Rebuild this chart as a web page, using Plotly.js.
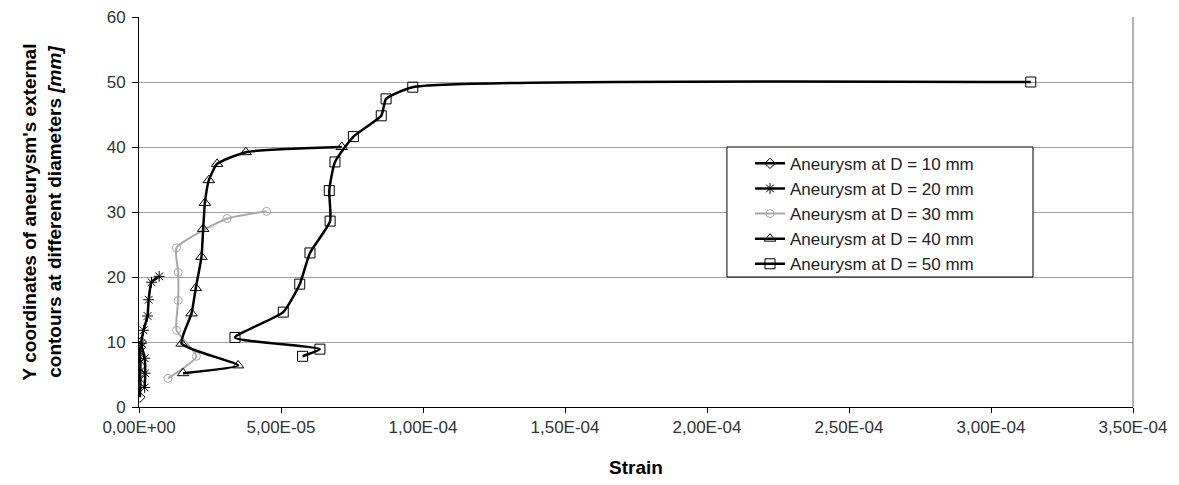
<!DOCTYPE html>
<html>
<head>
<meta charset="utf-8">
<script src="https://cdn.plot.ly/plotly-3.0.1.min.js"></script>
<style>html,body{margin:0;padding:0;background:#fff;}#chart{width:1179px;height:485px;}</style>
</head>
<body>
<div id="chart"></div>
<script>
// Strain values and Y coordinates [mm]
const seriesNames = ["Aneurysm at D = 10 mm","Aneurysm at D = 20 mm","Aneurysm at D = 30 mm","Aneurysm at D = 40 mm","Aneurysm at D = 50 mm"];

const strainD10 = [0.3e-6, 0.5e-6, 0.4e-6, 0.5e-6, 0.4e-6, 0.5e-6, 0.8e-6];
const yD10      = [1.5, 3.5, 5.0, 6.3, 7.7, 9.2, 10.0];

const strainD20 = [2.0e-6, 2.2e-6, 2.0e-6, 0.8e-6, 1.6e-6, 3.0e-6, 3.4e-6, 4.4e-6, 7.1e-6];
const yD20      = [3.0, 5.2, 7.5, 9.8, 11.8, 14.0, 16.5, 19.2, 20.1];

const strainD30 = [1.02e-5, 2.02e-5, 1.32e-5, 1.38e-5, 1.38e-5, 1.32e-5, 3.10e-5, 4.49e-5];
const yD30      = [4.4, 7.8, 11.8, 16.4, 20.7, 24.5, 29.0, 30.1];

const strainD40 = [1.55e-5, 3.49e-5, 1.50e-5, 1.85e-5, 2.00e-5, 2.20e-5, 2.26e-5, 2.32e-5, 2.46e-5, 2.75e-5, 3.76e-5, 7.14e-5];
const yD40      = [5.2, 6.4, 9.75, 14.4, 18.3, 23.1, 27.4, 31.4, 34.9, 37.4, 39.2, 40.0];

const strainD50 = [5.76e-5, 6.37e-5, 3.38e-5, 5.08e-5, 5.66e-5, 6.02e-5, 6.73e-5, 6.70e-5, 6.90e-5, 7.55e-5, 8.53e-5, 8.70e-5, 9.64e-5, 3.14e-4];
const yD50      = [7.8, 8.9, 10.7, 14.6, 18.9, 23.7, 28.6, 33.3, 37.7, 41.6, 44.8, 47.4, 49.2, 50.0];

const xTickVals = [0, 5e-5, 1e-4, 1.5e-4, 2e-4, 2.5e-4, 3e-4, 3.5e-4];
const xTickText = ["0,00E+00","5,00E-05","1,00E-04","1,50E-04","2,00E-04","2,50E-04","3,00E-04","3,50E-04"];
const yTickVals = [0, 10, 20, 30, 40, 50, 60];

const F = "Arial, 'Liberation Sans', sans-serif";
const lineStyle = (c, w) => ({color: c, width: w, shape: 'spline', smoothing: 0.5});

const traces = [
  {x: strainD10, y: yD10, name: seriesNames[0], mode: 'lines+markers',
   line: lineStyle('#000', 2.5), marker: {symbol: 'diamond-open', size: 8, color: '#000', line: {width: 1, color: '#000'}}},
  {x: strainD20, y: yD20, name: seriesNames[1], mode: 'lines+markers',
   line: lineStyle('#000', 2.5), marker: {symbol: 'asterisk-open', size: 9, color: '#000', line: {width: 1, color: '#000'}}},
  {x: strainD30, y: yD30, name: seriesNames[2], mode: 'lines+markers',
   line: lineStyle('#a8a8a8', 2), marker: {symbol: 'circle-open', size: 8, color: '#a8a8a8', line: {width: 1, color: '#a8a8a8'}}},
  {x: strainD40, y: yD40, name: seriesNames[3], mode: 'lines+markers',
   line: lineStyle('#000', 2.5), marker: {symbol: 'triangle-up-open', size: 10, color: '#000', line: {width: 1, color: '#000'}}},
  {x: strainD50, y: yD50, name: seriesNames[4], mode: 'lines+markers',
   line: lineStyle('#000', 2.5), marker: {symbol: 'square-open', size: 10, color: '#000', line: {width: 1, color: '#000'}}}
];

const layout = {
  width: 1179, height: 485,
  margin: {l: 139, r: 46, t: 17, b: 78, pad: 0},
  paper_bgcolor: '#fff', plot_bgcolor: '#fff',
  font: {family: F, color: '#333'},
  showlegend: true,
  xaxis: {
    range: [0, 3.5e-4], tickvals: xTickVals, ticktext: xTickText,
    ticks: 'outside', ticklen: 5, tickcolor: '#000', showline: true, linecolor: '#000', linewidth: 1,
    showgrid: false, zeroline: false, tickfont: {size: 17, family: F, color: '#333'},
    title: {text: 'Strain', font: {size: 19, family: F, color: '#000', weight: 'bold'}, standoff: 24}
  },
  yaxis: {
    range: [0, 60], tickvals: yTickVals,
    ticks: 'outside', ticklen: 6, tickcolor: '#000', showline: true, linecolor: '#000', linewidth: 1,
    showgrid: true, gridcolor: '#a0a0a0', gridwidth: 1, zeroline: false,
    tickfont: {size: 17, family: F, color: '#333'}, ticklabelstandoff: 3,
    title: {text: "Y coordinates of aneurysm's external<br>contours at different diameters <i>[mm]</i>",
            font: {size: 19, family: F, color: '#000', weight: 'bold'}, standoff: 40}
  },
  shapes: [
    {type: 'line', xref: 'paper', yref: 'paper', x0: 1, x1: 1, y0: 0, y1: 1, line: {color: '#666', width: 1}},
    {type: 'rect', xref: 'paper', yref: 'paper', x0: 0.5915, x1: 0.8994, y0: 0.3333, y1: 0.6667,
     line: {color: '#000', width: 1}, fillcolor: '#fff', layer: 'above'}
  ],
  legend: {
    x: 0.6147, y: 0.6697, xanchor: 'left', yanchor: 'top',
    bgcolor: 'rgba(0,0,0,0)', borderwidth: 0,
    font: {size: 17, family: F, color: '#222'}, tracegroupgap: 0
  }
};

Plotly.newPlot('chart', traces, layout, {displayModeBar: false, staticPlot: true});
</script>
</body>
</html>
